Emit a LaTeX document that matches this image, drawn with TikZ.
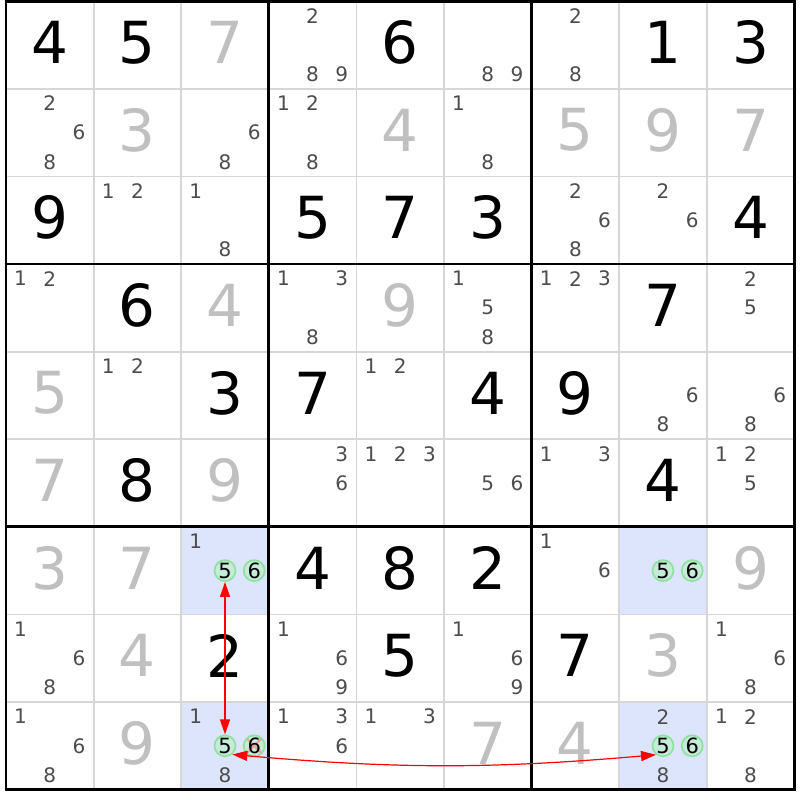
\documentclass[tikz,border=0pt]{standalone}
\usepackage{fontspec}
\setmainfont{DejaVu Sans}
\usetikzlibrary{arrows.meta}
\definecolor{candgray}{HTML}{4C4C4C}
\definecolor{solgray}{HTML}{C0C0C0}
\definecolor{hilite}{HTML}{DCE5FB}
\definecolor{thinline}{HTML}{D6D6D6}
\definecolor{circgreen}{HTML}{8EE29E}
\definecolor{circfill}{HTML}{C6EBD8}
\definecolor{elimred}{HTML}{F2A0A0}
\tikzset{
  candtxt/.style={font=\fontsize{20}{20}\selectfont, text=candgray, inner sep=0pt},
  giv/.style={font=\fontsize{58}{58}\selectfont, text=black, inner sep=0pt},
  sol/.style={giv, text=solgray},
  circd/.style={circle, draw=circgreen, fill=circfill, line width=1.7pt, minimum size=21pt, inner sep=0pt, font=\fontsize{21}{21}\selectfont, text=black},
  elim/.style={circd, path picture={\draw[elimred, line width=2pt]
     (path picture bounding box.north east) -- (path picture bounding box.south west)
     (path picture bounding box.north west) -- (path picture bounding box.south east);}},
  redarrow/.style={draw=red, line width=1.4pt, {Triangle[length=15pt,width=10pt]}-{Triangle[length=15pt,width=10pt]}},
  thingrid/.style={draw=thinline, line width=1.8pt},
  thickgrid/.style={draw=black, line width=2.8pt},
  hl/.style={fill=hilite}
}
\newcommand\cands[3]{\foreach \dg in {#3}{%
  \pgfmathsetmacro\cx{6+#2*87.6+(mod(\dg-1,3)+0.5)*29.2}%
  \pgfmathsetmacro\cy{1.2+#1*87.6+(floor((\dg-1)/3)+0.5)*29.2}%
  \node[candtxt] (k#1#2\dg) at (\cx,\cy) {\dg};}}
\newcommand\bigd[4]{\node[#4] (b#1#2) at ({6+(#2+0.5)*87.6},{1.2+(#1+0.5)*87.6-2.5}) {#3};}
\newcommand\circled[4]{%
  \pgfmathsetmacro\cx{6+#2*87.6+(mod(#3-1,3)+0.5)*29.2}%
  \pgfmathsetmacro\cy{1.2+#1*87.6+(floor((#3-1)/3)+0.5)*29.2}%
  \node[#4] (c#1#2#3) at (\cx,\cy) {#3};}
\begin{document}
\begin{tikzpicture}[x=1pt,y=-1pt]
\useasboundingbox (0,0) rectangle (800,800);
\fill[white] (0,0) rectangle (800,800);
% highlighted cells
\foreach \r/\c in {6/2,6/7,8/2,8/7}
  \path[hl] ({6+\c*87.6},{1.2+\r*87.6}) rectangle ++(87.6,87.6);
% thin grid
\foreach \i in {1,2,4,5,7,8}{
  \draw[thingrid] ({6+\i*87.6},1.2) -- ({6+\i*87.6},789.6);
  \draw[thingrid] (6,{1.2+\i*87.6}) -- (794.4,{1.2+\i*87.6});
}
% thick grid
\foreach \i in {0,3,6,9}{
  \draw[thickgrid] ({6+\i*87.6},0) -- ({6+\i*87.6},791);
  \draw[thickgrid] (4.6,{1.2+\i*87.6}) -- (795.8,{1.2+\i*87.6});
}
% row 0
\bigd{0}{0}{4}{giv}\bigd{0}{1}{5}{giv}\bigd{0}{2}{7}{sol}
\cands{0}{3}{2,8,9}\bigd{0}{4}{6}{giv}\cands{0}{5}{8,9}
\cands{0}{6}{2,8}\bigd{0}{7}{1}{giv}\bigd{0}{8}{3}{giv}
% row 1
\cands{1}{0}{2,6,8}\bigd{1}{1}{3}{sol}\cands{1}{2}{6,8}
\cands{1}{3}{1,2,8}\bigd{1}{4}{4}{sol}\cands{1}{5}{1,8}
\bigd{1}{6}{5}{sol}\bigd{1}{7}{9}{sol}\bigd{1}{8}{7}{sol}
% row 2
\bigd{2}{0}{9}{giv}\cands{2}{1}{1,2}\cands{2}{2}{1,8}
\bigd{2}{3}{5}{giv}\bigd{2}{4}{7}{giv}\bigd{2}{5}{3}{giv}
\cands{2}{6}{2,6,8}\cands{2}{7}{2,6}\bigd{2}{8}{4}{giv}
% row 3
\cands{3}{0}{1,2}\bigd{3}{1}{6}{giv}\bigd{3}{2}{4}{sol}
\cands{3}{3}{1,3,8}\bigd{3}{4}{9}{sol}\cands{3}{5}{1,5,8}
\cands{3}{6}{1,2,3}\bigd{3}{7}{7}{giv}\cands{3}{8}{2,5}
% row 4
\bigd{4}{0}{5}{sol}\cands{4}{1}{1,2}\bigd{4}{2}{3}{giv}
\bigd{4}{3}{7}{giv}\cands{4}{4}{1,2}\bigd{4}{5}{4}{giv}
\bigd{4}{6}{9}{giv}\cands{4}{7}{6,8}\cands{4}{8}{6,8}
% row 5
\bigd{5}{0}{7}{sol}\bigd{5}{1}{8}{giv}\bigd{5}{2}{9}{sol}
\cands{5}{3}{3,6}\cands{5}{4}{1,2,3}\cands{5}{5}{5,6}
\cands{5}{6}{1,3}\bigd{5}{7}{4}{giv}\cands{5}{8}{1,2,5}
% row 6
\bigd{6}{0}{3}{sol}\bigd{6}{1}{7}{sol}\cands{6}{2}{1}
\circled{6}{2}{5}{circd}\circled{6}{2}{6}{circd}
\bigd{6}{3}{4}{giv}\bigd{6}{4}{8}{giv}\bigd{6}{5}{2}{giv}
\cands{6}{6}{1,6}\circled{6}{7}{5}{circd}\circled{6}{7}{6}{circd}\bigd{6}{8}{9}{sol}
% row 7
\cands{7}{0}{1,6,8}\bigd{7}{1}{4}{sol}\bigd{7}{2}{2}{giv}
\cands{7}{3}{1,6,9}\bigd{7}{4}{5}{giv}\cands{7}{5}{1,6,9}
\bigd{7}{6}{7}{giv}\bigd{7}{7}{3}{sol}\cands{7}{8}{1,6,8}
% row 8
\cands{8}{0}{1,6,8}\bigd{8}{1}{9}{sol}\cands{8}{2}{1,8}
\circled{8}{2}{5}{circd}\circled{8}{2}{6}{elim}
\cands{8}{3}{1,3,6}\cands{8}{4}{1,3}\bigd{8}{5}{7}{sol}
\bigd{8}{6}{4}{sol}\cands{8}{7}{2,8}\circled{8}{7}{5}{circd}\circled{8}{7}{6}{circd}
\cands{8}{8}{1,2,8}
% links
\draw[redarrow] (c625.south) -- (c825.north);
\draw[redarrow, line width=1.2pt] (c825.-50) to[bend right=5] (c875.-128);
\end{tikzpicture}
\end{document}
